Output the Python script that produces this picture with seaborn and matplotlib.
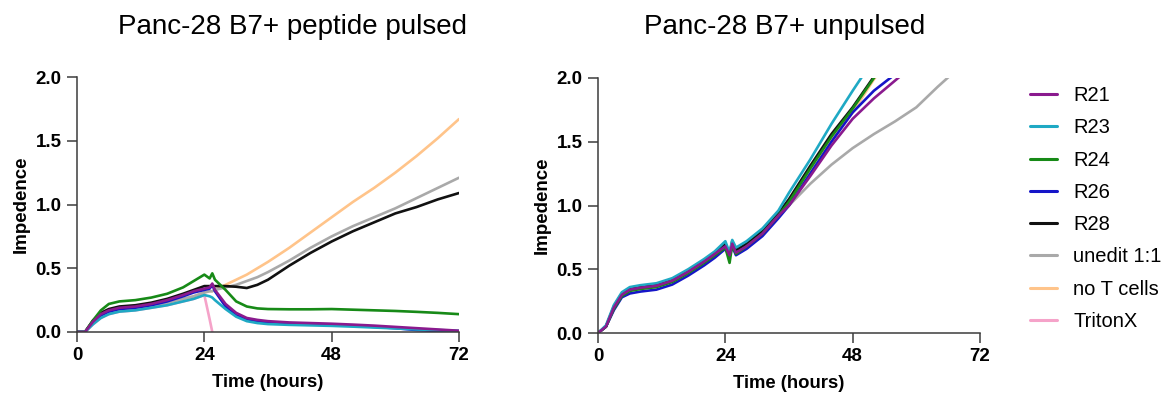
"""
plot.py
-------
Impedance traces for Panc-28 B7+ targets, peptide pulsed vs unpulsed.
"""

import numpy as np
import pandas as pd
import matplotlib
matplotlib.use("Agg")
import matplotlib.pyplot as plt
import seaborn as sns

nan = np.nan

# ── Data ─────────────────────────────────────────────────────────────
SERIES = ["R21", "R23", "R24", "R26", "R28", "unedit 1:1", "no T cells", "TritonX"]
COLORS = ["#8a1a8e", "#1fa9c4", "#178a17", "#1515c8", "#111111",
          "#a9a9a9", "#ffc48a", "#f5a3c9"]

left_t = [0, 1.5, 3, 4.5, 6, 8, 11, 14, 17, 20, 22, 24, 25, 25.5, 26, 28, 30,
          32, 34, 36, 40, 44, 48, 52, 56, 60, 64, 68, 72]
left_r21 = [0, 0.0, 0.08, 0.14, 0.17, 0.19, 0.2, 0.22, 0.25, 0.29, 0.32, 0.34,
            0.35, 0.38, 0.33, 0.22, 0.15, 0.11, 0.095, 0.085, 0.075, 0.07,
            0.065, 0.058, 0.05, 0.04, 0.03, 0.02, 0.01]
left_r23 = [0, 0.0, 0.06, 0.11, 0.14, 0.16, 0.17, 0.19, 0.21, 0.24, 0.26, 0.29,
            0.28, 0.27, 0.25, 0.18, 0.12, 0.085, 0.07, 0.062, 0.056, 0.052,
            0.048, 0.042, 0.035, 0.028, 0.02, 0.015, 0.01]
left_r24 = [0, 0.0, 0.09, 0.17, 0.22, 0.24, 0.25, 0.27, 0.3, 0.35, 0.4, 0.45,
            0.42, 0.46, 0.41, 0.33, 0.24, 0.2, 0.185, 0.18, 0.178, 0.178,
            0.18, 0.175, 0.17, 0.165, 0.158, 0.15, 0.14]
left_r26 = [0, 0.0, 0.07, 0.13, 0.16, 0.18, 0.19, 0.21, 0.24, 0.28, 0.31, 0.33,
            0.34, 0.37, 0.32, 0.2, 0.13, 0.1, 0.085, 0.075, 0.068, 0.062,
            0.056, 0.048, 0.04, 0.03, 0.015, 0.008, 0.005]
left_r28 = [0, 0.0, 0.09, 0.15, 0.18, 0.2, 0.21, 0.23, 0.26, 0.3, 0.33, 0.36,
            0.36, 0.36, 0.36, 0.36, 0.355, 0.345, 0.37, 0.41, 0.52, 0.62,
            0.71, 0.79, 0.86, 0.93, 0.98, 1.04, 1.09]
left_unedit = [0, 0.0, 0.07, 0.12, 0.15, 0.17, 0.18, 0.2, 0.23, 0.26, 0.28, 0.31,
               0.32, 0.32, 0.33, 0.35, 0.37, 0.4, 0.43, 0.47, 0.56, 0.66,
               0.75, 0.83, 0.9, 0.97, 1.05, 1.13, 1.21]
left_no_t = [0, 0.0, 0.07, 0.12, 0.15, 0.17, 0.18, 0.2, 0.23, 0.26, 0.28, 0.31,
             0.32, 0.32, 0.33, 0.37, 0.41, 0.45, 0.5, 0.55, 0.66, 0.78,
             0.9, 1.02, 1.13, 1.25, 1.38, 1.52, 1.67]
left_triton = [0, 0.0, 0.06, 0.11, 0.14, 0.16, 0.17, 0.19, 0.21, 0.24, 0.26, 0.29,
               0.1, 0.0, nan, nan, nan, nan, nan, nan, nan, nan,
               nan, nan, nan, nan, nan, nan, nan]

right_t = [0, 1.5, 3, 4.5, 6, 8, 11, 14, 17, 20, 22, 24, 24.8, 25.3, 26, 28, 31,
           34, 36, 40, 44, 48, 52, 56, 60, 64, 68]
right_r21 = [0, 0.05, 0.2, 0.3, 0.34, 0.355, 0.37, 0.41, 0.48, 0.56, 0.62, 0.68,
             0.61, 0.7, 0.63, 0.68, 0.78, 0.92, 1.0, 1.23, 1.47, 1.68, 1.84,
             1.98, 2.12, nan, nan]
right_r23 = [0, 0.06, 0.22, 0.32, 0.36, 0.375, 0.39, 0.43, 0.5, 0.58, 0.64, 0.72,
             0.63, 0.73, 0.67, 0.72, 0.82, 0.96, 1.1, 1.36, 1.64, 1.9, 2.15,
             nan, nan, nan, nan]
right_r24 = [0, 0.05, 0.19, 0.29, 0.33, 0.345, 0.36, 0.4, 0.47, 0.55, 0.61, 0.67,
             0.55, 0.69, 0.62, 0.68, 0.78, 0.92, 1.03, 1.29, 1.54, 1.76, 2.0,
             2.2, nan, nan, nan]
right_r26 = [0, 0.05, 0.18, 0.28, 0.31, 0.325, 0.34, 0.38, 0.45, 0.53, 0.59, 0.66,
             0.6, 0.68, 0.61, 0.66, 0.76, 0.9, 1.0, 1.25, 1.5, 1.73, 1.9,
             2.03, nan, nan, nan]
right_r28 = [0, 0.05, 0.21, 0.31, 0.35, 0.365, 0.38, 0.42, 0.49, 0.57, 0.63, 0.7,
             0.62, 0.72, 0.65, 0.7, 0.8, 0.94, 1.05, 1.31, 1.56, 1.77, 2.01,
             2.2, nan, nan, nan]
right_unedit = [0, 0.05, 0.2, 0.3, 0.34, 0.355, 0.37, 0.41, 0.48, 0.56, 0.62, 0.68,
                0.61, 0.7, 0.64, 0.69, 0.79, 0.92, 1.0, 1.17, 1.32, 1.45, 1.56,
                1.66, 1.77, 1.93, 2.08]
right_no_t = [0, 0.05, 0.2, 0.3, 0.34, 0.355, 0.37, 0.41, 0.48, 0.56, 0.62, 0.68,
              0.61, 0.7, 0.64, 0.69, 0.79, 0.93, 1.03, 1.28, 1.52, 1.73, 1.99,
              2.2, nan, nan, nan]

X_TICKS = [0, 24, 48, 72]
Y_TICKS = [0.0, 0.5, 1.0, 1.5, 2.0]


def long_form(t, columns):
    frames = []
    for name, vals in columns.items():
        frames.append(pd.DataFrame({"time": t, "imp": vals, "series": name}))
    return pd.concat(frames, ignore_index=True).dropna()


left_df = long_form(left_t, {
    "R21": left_r21, "R23": left_r23, "R24": left_r24, "R26": left_r26,
    "R28": left_r28, "unedit 1:1": left_unedit, "no T cells": left_no_t,
    "TritonX": left_triton,
})
right_df = long_form(right_t, {
    "R21": right_r21, "R23": right_r23, "R24": right_r24, "R26": right_r26,
    "R28": right_r28, "unedit 1:1": right_unedit, "no T cells": right_no_t,
})

# ── Style ────────────────────────────────────────────────────────────
sns.set_theme(style="ticks")
plt.rcParams.update({
    "font.family": ["Liberation Sans", "DejaVu Sans"],
    "text.color": "black",
    "axes.labelcolor": "black",
    "axes.edgecolor": "#3c3c3c",
    "axes.linewidth": 1.1,
    "xtick.color": "#3c3c3c",
    "ytick.color": "#3c3c3c",
    "xtick.labelcolor": "black",
    "ytick.labelcolor": "black",
})
palette = dict(zip(SERIES, COLORS))

fig = plt.figure(figsize=(11.76, 3.97), dpi=100)
W, H = 1176, 397
ax_l = fig.add_axes([77 / W, 1 - 332 / H, 382 / W, 255 / H])
ax_r = fig.add_axes([598 / W, 1 - 333 / H, 382 / W, 255 / H])

# draw in reverse so the R-series sit on top, TritonX underneath
sns.lineplot(data=left_df, x="time", y="imp", hue="series",
             hue_order=SERIES[::-1], palette=palette, estimator=None,
             linewidth=1.9, ax=ax_l)
sns.lineplot(data=right_df, x="time", y="imp", hue="series",
             hue_order=SERIES[:7][::-1], palette=palette, estimator=None,
             linewidth=1.9, legend=False, ax=ax_r)

h_all, l_all = ax_l.get_legend_handles_labels()
lookup = dict(zip(l_all, h_all))
handles = [lookup[s] for s in SERIES]
ax_l.get_legend().remove()

for ax in (ax_l, ax_r):
    ax.set_xlim(0, 72)
    ax.set_ylim(0, 2.0)
    ax.set_xticks(X_TICKS)
    ax.set_yticks(Y_TICKS)
    ax.set_yticklabels([f"{v:.1f}" for v in Y_TICKS])
    ax.tick_params(length=7, width=1.1, pad=4, labelsize=13.5)
    for lab in ax.get_xticklabels() + ax.get_yticklabels():
        lab.set_fontweight("bold")
    ax.set_xlabel("Time (hours)", fontsize=13.3, fontweight="bold", labelpad=7)
    ax.set_ylabel("Impedence", fontsize=13.5, fontweight="bold", labelpad=4)
    sns.despine(ax=ax)

fig.text(293 / W, 1 - 27 / H, "Panc-28 B7+ peptide pulsed", ha="center",
         va="center", fontsize=20)
fig.text(785 / W, 1 - 27 / H, "Panc-28 B7+ unpulsed", ha="center",
         va="center", fontsize=20)

for h in handles:
    h.set_linewidth(2.2)
fig.legend(handles, SERIES, loc="upper left",
           bbox_to_anchor=(1030 / W, 1 - 86 / H), frameon=False,
           fontsize=14.5, handlelength=1.35, handletextpad=0.8,
           labelspacing=0.66, borderaxespad=0, borderpad=0)

fig.savefig("out.png", dpi=100)
plt.close(fig)
